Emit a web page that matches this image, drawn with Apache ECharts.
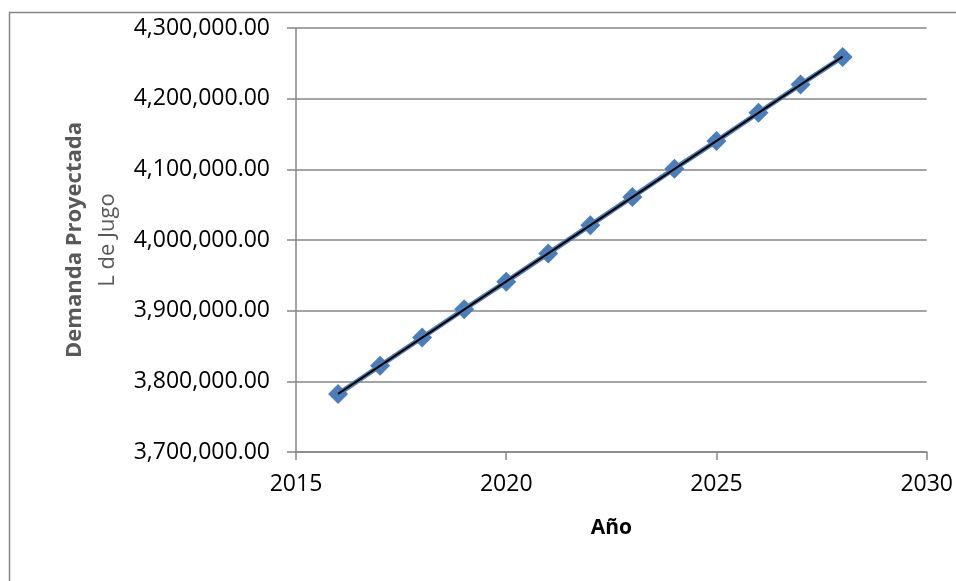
<!DOCTYPE html>
<html>
<head>
<meta charset="utf-8">
<script src="https://cdn.jsdelivr.net/npm/echarts@6/dist/echarts.min.js"></script>
<style>
  html, body { margin: 0; padding: 0; background: #fff; }
  #chart { width: 956px; height: 581px; }
</style>
</head>
<body>
<div id="chart"></div>
<script>
// Projected juice demand per year (litres)
const years = [2016, 2017, 2018, 2019, 2020, 2021, 2022, 2023, 2024, 2025, 2026, 2027, 2028];
const demand = [3782000, 3822000, 3862000, 3902000, 3941000, 3981000, 4021000,
                4061000, 4101000, 4140000, 4180000, 4220000, 4259000];
const xTicks = [2015, 2020, 2025, 2030];
const yTicks = [3700000, 3800000, 3900000, 4000000, 4100000, 4200000, 4300000];

// Linear trend (least squares) over the demand series
function linearFit(xs, ys) {
  const n = xs.length;
  const mx = xs.reduce((a, b) => a + b, 0) / n;
  const my = ys.reduce((a, b) => a + b, 0) / n;
  let sxy = 0, sxx = 0;
  for (let i = 0; i < n; i++) {
    sxy += (xs[i] - mx) * (ys[i] - my);
    sxx += (xs[i] - mx) * (xs[i] - mx);
  }
  const slope = sxy / sxx;
  return x => my + slope * (x - mx);
}
const trend = linearFit(years, demand);
const first = years[0], last = years[years.length - 1];

const fmt = v => v.toLocaleString('en-US', { minimumFractionDigits: 2, maximumFractionDigits: 2 });
const gray = '#868686';
const font = '"Open Sans", "Liberation Sans", sans-serif';

const chart = echarts.init(document.getElementById('chart'), null, { renderer: 'canvas' });
chart.setOption({
  animation: false,
  backgroundColor: '#fff',
  textStyle: { fontFamily: font },
  graphic: [{
    type: 'rect',
    shape: { x: 9.5, y: 12.5, width: 1000, height: 1000 },
    style: { fill: 'none', stroke: gray, lineWidth: 1.5 },
    silent: true,
    z: -10
  }],
  grid: { left: 296, right: 29, top: 28, bottom: 129 },
  xAxis: {
    type: 'value',
    min: xTicks[0],
    max: xTicks[xTicks.length - 1],
    interval: xTicks[1] - xTicks[0],
    name: 'Año',
    nameLocation: 'middle',
    nameGap: 66,
    nameTextStyle: { fontFamily: font, fontSize: 21, fontWeight: 'bold', color: '#000' },
    axisLine: { lineStyle: { color: gray, width: 1.5 } },
    axisTick: { show: true, length: 8, lineStyle: { color: gray, width: 1.5 } },
    axisLabel: { margin: 21, fontSize: 23, color: '#000', fontFamily: font, formatter: v => String(v) },
    splitLine: { show: false }
  },
  yAxis: {
    type: 'value',
    min: yTicks[0],
    max: yTicks[yTicks.length - 1],
    interval: yTicks[1] - yTicks[0],
    name: '{b|Demanda Proyectada}\n{n|L de Jugo}',
    nameLocation: 'middle',
    nameRotate: 90,
    nameGap: 172,
    nameTextStyle: {
      rich: {
        b: { fontFamily: font, fontSize: 22, fontWeight: 'bold', color: '#595959', lineHeight: 33 },
        n: { fontFamily: font, fontSize: 22, color: '#595959', lineHeight: 33 }
      }
    },
    axisLine: { show: true, lineStyle: { color: gray, width: 1.5 } },
    axisTick: { show: true, length: 9, lineStyle: { color: gray, width: 1.5 } },
    axisLabel: { margin: 26, fontSize: 23, color: '#000', fontFamily: font, formatter: fmt },
    splitLine: { show: true, lineStyle: { color: gray, width: 1.5 } }
  },
  series: [
    {
      name: 'Demanda',
      type: 'line',
      data: years.map((y, i) => [y, demand[i]]),
      symbol: 'diamond',
      symbolSize: 20,
      itemStyle: { color: '#4a7ebb' },
      lineStyle: { color: '#4a7ebb', width: 5 },
      z: 2
    },
    {
      name: 'Tendencia',
      type: 'line',
      data: [[first, trend(first)], [last, trend(last)]],
      symbol: 'none',
      lineStyle: { color: '#000', width: 2 },
      z: 3
    }
  ]
});
</script>
</body>
</html>
